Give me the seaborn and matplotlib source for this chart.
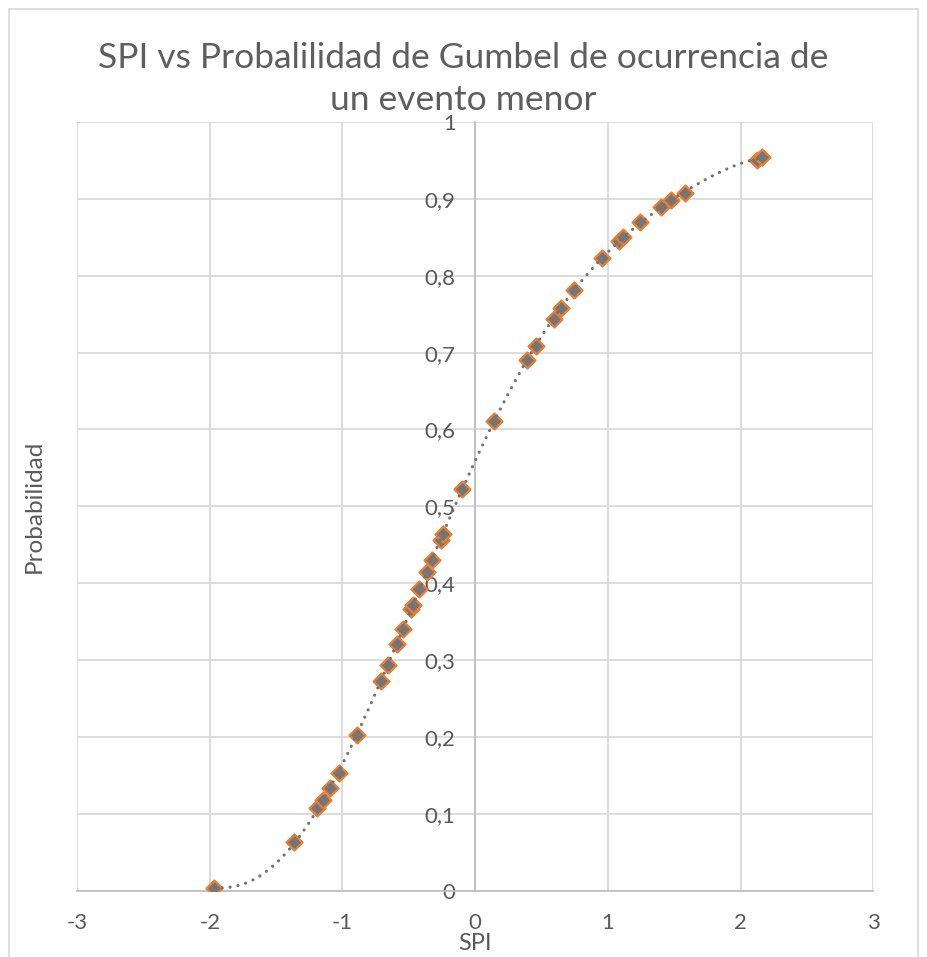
import matplotlib
matplotlib.use("Agg")
import matplotlib.pyplot as plt
from matplotlib.patches import Rectangle
import seaborn as sns
import pandas as pd

# SPI values and their Gumbel non-exceedance probability
spi = [-1.967, -1.364, -1.188, -1.145, -1.090, -1.027, -0.889, -0.711, -0.656,
       -0.592, -0.543, -0.485, -0.467, -0.422, -0.366, -0.326, -0.261, -0.246,
       -0.098, 0.141, 0.392, 0.455, 0.593, 0.648, 0.746, 0.953, 1.085, 1.115,
       1.241, 1.399, 1.475, 1.583, 2.120, 2.158]
prob = [0.004, 0.0635, 0.107, 0.118, 0.134, 0.153, 0.2025, 0.273, 0.294,
        0.321, 0.340, 0.367, 0.372, 0.393, 0.415, 0.430, 0.456, 0.464,
        0.522, 0.611, 0.690, 0.708, 0.744, 0.758, 0.781, 0.823, 0.845, 0.850,
        0.870, 0.890, 0.898, 0.907, 0.951, 0.954]

x_ticks = [-3, -2, -1, 0, 1, 2, 3]
y_ticks = [0, 0.1, 0.2, 0.3, 0.4, 0.5, 0.6, 0.7, 0.8, 0.9, 1.0]

title = "SPI vs Probalilidad de Gumbel de ocurrencia de\nun evento menor"
x_label = "SPI"
y_label = "Probabilidad"

df = pd.DataFrame({"SPI": spi, "Probabilidad": prob})

sns.set_theme(style="white")
plt.rcParams["font.family"] = ["Lato", "DejaVu Sans"]

TEXT = "#595959"
GRID = "#d9d9d9"
AXIS = "#bfbfbf"

fig = plt.figure(figsize=(9.27, 9.57), dpi=100)
ax = fig.add_axes([77 / 927, 1 - 890.7 / 957, 796.3 / 927, 768.7 / 957])

# chart frame
fig.patches.append(Rectangle((9 / 927, -0.05), 909 / 927, 1.05 - 9 / 957,
                             transform=fig.transFigure, fill=False,
                             edgecolor=GRID, linewidth=1.2, zorder=0))

sns.scatterplot(data=df, x="SPI", y="Probabilidad", ax=ax, marker="D", s=66,
                color="#767676", edgecolor="#ED7D31", linewidth=1.6, zorder=3,
                legend=False)

# polynomial trendline
sns.regplot(data=df, x="SPI", y="Probabilidad", ax=ax, order=6, ci=None,
            scatter=False, truncate=True,
            line_kws=dict(color="#727272", lw=2.3, linestyle=(0, (0.01, 2.5)),
                          dash_capstyle="round", zorder=4))

ax.set_xlim(-3, 3)
ax.set_ylim(0, 1)
ax.set_xticks(x_ticks)
ax.set_yticks(y_ticks)
ax.set_xticklabels([f"{t:g}" for t in x_ticks])
ax.set_yticklabels([f"{t:g}".replace(".", ",") for t in y_ticks])

ax.grid(True, color=GRID, linewidth=1.3)
ax.set_axisbelow(True)
for side in ("top", "right"):
    ax.spines[side].set_visible(False)
ax.spines["left"].set_position(("data", 0))
ax.spines["left"].set_color(AXIS)
ax.spines["left"].set_linewidth(1.3)
ax.spines["bottom"].set_color(AXIS)
ax.spines["bottom"].set_linewidth(1.3)

ax.tick_params(axis="both", length=0, labelsize=16, labelcolor=TEXT)
ax.tick_params(axis="y", pad=14)
ax.tick_params(axis="x", pad=16)

ax.set_xlabel(x_label, fontsize=17, color=TEXT)
ax.xaxis.set_label_coords(0.5, -0.069)
ax.xaxis.label.set_va("center")
ax.set_ylabel(y_label, fontsize=17.5, color=TEXT)
ax.yaxis.set_label_coords(-0.054, 0.5)
ax.yaxis.label.set_va("center")

fig.text(463 / 927, 1 - 79 / 957, title, ha="center", va="center",
         fontsize=25.5, color="#5e5e5e", fontweight="normal", linespacing=1.42)

fig.savefig("out.png", dpi=100)
